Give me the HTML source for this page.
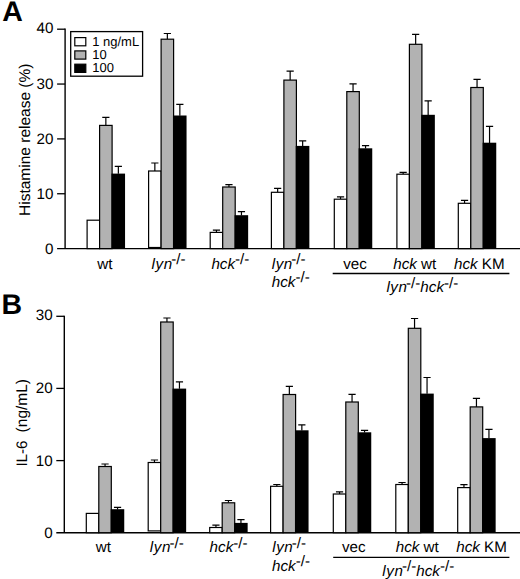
<!DOCTYPE html>
<html><head><meta charset="utf-8"><title>Figure</title>
<style>
html,body{margin:0;padding:0;background:#fff;}
svg{display:block;text-rendering:geometricPrecision}
.t{font-family:"Liberation Sans",Arial,Helvetica,sans-serif;font-size:15.2px;fill:#000}
.y{font-family:"Liberation Sans",Arial,Helvetica,sans-serif;font-size:15.5px;fill:#000}
.l{font-family:"Liberation Sans",Arial,Helvetica,sans-serif;font-size:13px;fill:#000}
.p{font-family:"Liberation Sans",Arial,Helvetica,sans-serif;font-size:28.5px;font-weight:bold;fill:#000}
</style></head>
<body>
<svg width="520" height="579" viewBox="0 0 520 579">
<rect width="520" height="579" fill="#fff"/>
<path d="M65.1 28.55V248.6" stroke="#000" stroke-width="1.4" fill="none"/>
<path d="M57.099999999999994 248.6H520" stroke="#000" stroke-width="1.4" fill="none"/>
<path d="M57.099999999999994 29.2H65.1" stroke="#000" stroke-width="1.3" fill="none"/>
<text x="53.49999999999999" y="32.8" text-anchor="end" class="t">40</text>
<path d="M57.099999999999994 84.05H65.1" stroke="#000" stroke-width="1.3" fill="none"/>
<text x="53.49999999999999" y="89.05" text-anchor="end" class="t">30</text>
<path d="M57.099999999999994 138.9H65.1" stroke="#000" stroke-width="1.3" fill="none"/>
<text x="53.49999999999999" y="143.9" text-anchor="end" class="t">20</text>
<path d="M57.099999999999994 193.75H65.1" stroke="#000" stroke-width="1.3" fill="none"/>
<text x="53.49999999999999" y="198.75" text-anchor="end" class="t">10</text>
<text x="53.49999999999999" y="253.6" text-anchor="end" class="t">0</text>
<rect x="87.10" y="220.20" width="12.5" height="28.40" fill="#fff" stroke="#000" stroke-width="1.2"/>
<path d="M105.85 125.40V117.40M102.25 117.40H109.45" stroke="#000" stroke-width="1.2" fill="none"/>
<rect x="99.60" y="125.40" width="12.5" height="123.20" fill="#b2b2b2" stroke="#000" stroke-width="1.2"/>
<path d="M118.35 173.80V166.30M114.75 166.30H121.95" stroke="#000" stroke-width="1.2" fill="none"/>
<rect x="111.45" y="173.60" width="13.60" height="75.00" fill="#000"/>
<path d="M154.85 171.00V163.00M151.25 163.00H158.45" stroke="#000" stroke-width="1.2" fill="none"/>
<rect x="148.60" y="171.00" width="12.5" height="76.50" fill="#fff" stroke="#000" stroke-width="1.2"/>
<path d="M167.35 39.20V33.50M163.75 33.50H170.95" stroke="#000" stroke-width="1.2" fill="none"/>
<rect x="161.10" y="39.20" width="12.5" height="209.40" fill="#b2b2b2" stroke="#000" stroke-width="1.2"/>
<path d="M179.85 115.70V104.30M176.25 104.30H183.45" stroke="#000" stroke-width="1.2" fill="none"/>
<rect x="172.95" y="115.50" width="13.60" height="133.10" fill="#000"/>
<path d="M216.45 232.40V230.10M212.85 230.10H220.05" stroke="#000" stroke-width="1.2" fill="none"/>
<rect x="210.20" y="232.40" width="12.5" height="16.20" fill="#fff" stroke="#000" stroke-width="1.2"/>
<path d="M228.95 187.00V184.60M225.35 184.60H232.55" stroke="#000" stroke-width="1.2" fill="none"/>
<rect x="222.70" y="187.00" width="12.5" height="61.60" fill="#b2b2b2" stroke="#000" stroke-width="1.2"/>
<path d="M241.45 215.40V211.70M237.85 211.70H245.05" stroke="#000" stroke-width="1.2" fill="none"/>
<rect x="234.55" y="215.20" width="13.60" height="33.40" fill="#000"/>
<path d="M277.65 192.30V188.30M274.05 188.30H281.25" stroke="#000" stroke-width="1.2" fill="none"/>
<rect x="271.40" y="192.30" width="12.5" height="56.30" fill="#fff" stroke="#000" stroke-width="1.2"/>
<path d="M290.15 80.10V71.10M286.55 71.10H293.75" stroke="#000" stroke-width="1.2" fill="none"/>
<rect x="283.90" y="80.10" width="12.5" height="168.50" fill="#b2b2b2" stroke="#000" stroke-width="1.2"/>
<path d="M302.65 146.10V140.80M299.05 140.80H306.25" stroke="#000" stroke-width="1.2" fill="none"/>
<rect x="295.75" y="145.90" width="13.60" height="102.70" fill="#000"/>
<path d="M340.55 199.20V196.90M336.95 196.90H344.15" stroke="#000" stroke-width="1.2" fill="none"/>
<rect x="334.30" y="199.20" width="12.5" height="49.40" fill="#fff" stroke="#000" stroke-width="1.2"/>
<path d="M353.05 91.60V83.80M349.45 83.80H356.65" stroke="#000" stroke-width="1.2" fill="none"/>
<rect x="346.80" y="91.60" width="12.5" height="157.00" fill="#b2b2b2" stroke="#000" stroke-width="1.2"/>
<path d="M365.55 148.50V145.70M361.95 145.70H369.15" stroke="#000" stroke-width="1.2" fill="none"/>
<rect x="358.65" y="148.30" width="13.60" height="100.30" fill="#000"/>
<path d="M403.15 174.20V172.40M399.55 172.40H406.75" stroke="#000" stroke-width="1.2" fill="none"/>
<rect x="396.90" y="174.20" width="12.5" height="74.40" fill="#fff" stroke="#000" stroke-width="1.2"/>
<path d="M415.65 44.30V34.30M412.05 34.30H419.25" stroke="#000" stroke-width="1.2" fill="none"/>
<rect x="409.40" y="44.30" width="12.5" height="204.30" fill="#b2b2b2" stroke="#000" stroke-width="1.2"/>
<path d="M428.15 115.00V100.80M424.55 100.80H431.75" stroke="#000" stroke-width="1.2" fill="none"/>
<rect x="421.25" y="114.80" width="13.60" height="133.80" fill="#000"/>
<path d="M464.55 203.30V200.40M460.95 200.40H468.15" stroke="#000" stroke-width="1.2" fill="none"/>
<rect x="458.30" y="203.30" width="12.5" height="45.30" fill="#fff" stroke="#000" stroke-width="1.2"/>
<path d="M477.05 87.50V79.30M473.45 79.30H480.65" stroke="#000" stroke-width="1.2" fill="none"/>
<rect x="470.80" y="87.50" width="12.5" height="161.10" fill="#b2b2b2" stroke="#000" stroke-width="1.2"/>
<path d="M489.55 142.90V126.30M485.95 126.30H493.15" stroke="#000" stroke-width="1.2" fill="none"/>
<rect x="482.65" y="142.70" width="13.60" height="105.90" fill="#000"/>
<path d="M64.3 315.65000000000003V532.7" stroke="#000" stroke-width="1.4" fill="none"/>
<path d="M56.3 532.7H520" stroke="#000" stroke-width="1.4" fill="none"/>
<path d="M56.3 316.3H64.3" stroke="#000" stroke-width="1.3" fill="none"/>
<text x="52.699999999999996" y="319.90000000000003" text-anchor="end" class="t">30</text>
<path d="M56.3 388.4H64.3" stroke="#000" stroke-width="1.3" fill="none"/>
<text x="52.699999999999996" y="393.4" text-anchor="end" class="t">20</text>
<path d="M56.3 460.6H64.3" stroke="#000" stroke-width="1.3" fill="none"/>
<text x="52.699999999999996" y="465.6" text-anchor="end" class="t">10</text>
<text x="52.699999999999996" y="537.7" text-anchor="end" class="t">0</text>
<rect x="86.30" y="513.40" width="12.5" height="19.30" fill="#fff" stroke="#000" stroke-width="1.2"/>
<path d="M105.05 466.50V464.00M101.45 464.00H108.65" stroke="#000" stroke-width="1.2" fill="none"/>
<rect x="98.80" y="466.50" width="12.5" height="66.20" fill="#b2b2b2" stroke="#000" stroke-width="1.2"/>
<path d="M117.55 509.40V507.40M113.95 507.40H121.15" stroke="#000" stroke-width="1.2" fill="none"/>
<rect x="110.65" y="509.20" width="13.60" height="23.50" fill="#000"/>
<path d="M154.45 462.50V460.00M150.85 460.00H158.05" stroke="#000" stroke-width="1.2" fill="none"/>
<rect x="148.20" y="462.50" width="12.5" height="68.40" fill="#fff" stroke="#000" stroke-width="1.2"/>
<path d="M166.95 322.00V318.00M163.35 318.00H170.55" stroke="#000" stroke-width="1.2" fill="none"/>
<rect x="160.70" y="322.00" width="12.5" height="210.70" fill="#b2b2b2" stroke="#000" stroke-width="1.2"/>
<path d="M179.45 388.80V381.80M175.85 381.80H183.05" stroke="#000" stroke-width="1.2" fill="none"/>
<rect x="172.55" y="388.60" width="13.60" height="144.10" fill="#000"/>
<path d="M215.95 527.50V525.20M212.35 525.20H219.55" stroke="#000" stroke-width="1.2" fill="none"/>
<rect x="209.70" y="527.50" width="12.5" height="5.20" fill="#fff" stroke="#000" stroke-width="1.2"/>
<path d="M228.45 502.80V500.50M224.85 500.50H232.05" stroke="#000" stroke-width="1.2" fill="none"/>
<rect x="222.20" y="502.80" width="12.5" height="29.90" fill="#b2b2b2" stroke="#000" stroke-width="1.2"/>
<path d="M240.95 523.10V519.60M237.35 519.60H244.55" stroke="#000" stroke-width="1.2" fill="none"/>
<rect x="234.05" y="522.90" width="13.60" height="9.80" fill="#000"/>
<path d="M276.85 486.30V484.50M273.25 484.50H280.45" stroke="#000" stroke-width="1.2" fill="none"/>
<rect x="270.60" y="486.30" width="12.5" height="46.40" fill="#fff" stroke="#000" stroke-width="1.2"/>
<path d="M289.35 394.50V386.30M285.75 386.30H292.95" stroke="#000" stroke-width="1.2" fill="none"/>
<rect x="283.10" y="394.50" width="12.5" height="138.20" fill="#b2b2b2" stroke="#000" stroke-width="1.2"/>
<path d="M301.85 430.50V424.80M298.25 424.80H305.45" stroke="#000" stroke-width="1.2" fill="none"/>
<rect x="294.95" y="430.30" width="13.60" height="102.40" fill="#000"/>
<path d="M339.55 494.00V491.80M335.95 491.80H343.15" stroke="#000" stroke-width="1.2" fill="none"/>
<rect x="333.30" y="494.00" width="12.5" height="38.70" fill="#fff" stroke="#000" stroke-width="1.2"/>
<path d="M352.05 402.00V394.30M348.45 394.30H355.65" stroke="#000" stroke-width="1.2" fill="none"/>
<rect x="345.80" y="402.00" width="12.5" height="130.70" fill="#b2b2b2" stroke="#000" stroke-width="1.2"/>
<path d="M364.55 432.50V430.30M360.95 430.30H368.15" stroke="#000" stroke-width="1.2" fill="none"/>
<rect x="357.65" y="432.30" width="13.60" height="100.40" fill="#000"/>
<path d="M402.05 484.50V482.50M398.45 482.50H405.65" stroke="#000" stroke-width="1.2" fill="none"/>
<rect x="395.80" y="484.50" width="12.5" height="48.20" fill="#fff" stroke="#000" stroke-width="1.2"/>
<path d="M414.55 328.30V318.50M410.95 318.50H418.15" stroke="#000" stroke-width="1.2" fill="none"/>
<rect x="408.30" y="328.30" width="12.5" height="204.40" fill="#b2b2b2" stroke="#000" stroke-width="1.2"/>
<path d="M427.05 393.80V377.50M423.45 377.50H430.65" stroke="#000" stroke-width="1.2" fill="none"/>
<rect x="420.15" y="393.60" width="13.60" height="139.10" fill="#000"/>
<path d="M463.95 487.60V484.70M460.35 484.70H467.55" stroke="#000" stroke-width="1.2" fill="none"/>
<rect x="457.70" y="487.60" width="12.5" height="45.10" fill="#fff" stroke="#000" stroke-width="1.2"/>
<path d="M476.45 406.90V398.30M472.85 398.30H480.05" stroke="#000" stroke-width="1.2" fill="none"/>
<rect x="470.20" y="406.90" width="12.5" height="125.80" fill="#b2b2b2" stroke="#000" stroke-width="1.2"/>
<path d="M488.95 438.30V429.30M485.35 429.30H492.55" stroke="#000" stroke-width="1.2" fill="none"/>
<rect x="482.05" y="438.10" width="13.60" height="94.60" fill="#000"/>
<rect x="70.7" y="31.6" width="71.9" height="44.6" fill="#fff" stroke="#000" stroke-width="1.3"/>
<rect x="74.8" y="37.60" width="11" height="8.2" fill="#fff" stroke="#000" stroke-width="1.2"/>
<text x="92.2" y="45.50" class="l">1 ng/mL</text>
<rect x="74.8" y="50.90" width="11" height="8.2" fill="#b2b2b2" stroke="#000" stroke-width="1.2"/>
<text x="92.2" y="58.80" class="l">10</text>
<rect x="74.8" y="64.20" width="11" height="8.2" fill="#000" stroke="#000" stroke-width="1.2"/>
<text x="92.2" y="72.10" class="l">100</text>
<text x="2.2" y="21.2" class="p">A</text>
<text x="1.6" y="313.5" class="p">B</text>
<text transform="translate(29.9 216.0) rotate(-90)" class="y">Histamine release (%)</text>
<text transform="translate(27.1 466.6) rotate(-90)" class="t">IL-6</text>
<text transform="translate(27.2 432.4) rotate(-90)" class="y">(ng/mL)</text>
<text x="97.3" y="268.5" class="t" text-anchor="start"><tspan>wt</tspan></text>
<text x="151.6" y="268.5" class="t" text-anchor="start"><tspan font-style="italic" letter-spacing="0.6">ly</tspan><tspan font-style="italic" letter-spacing="-1.0">n</tspan><tspan dy="-4.5">-/-</tspan></text>
<text x="211.4" y="268.5" class="t" text-anchor="start"><tspan font-style="italic">hck</tspan><tspan dy="-4.5">-/-</tspan></text>
<text x="271.7" y="268.5" class="t" text-anchor="start"><tspan font-style="italic" letter-spacing="0.6">ly</tspan><tspan font-style="italic" letter-spacing="-1.0">n</tspan><tspan dy="-4.5">-/-</tspan></text>
<text x="271.8" y="286.8" class="t" text-anchor="start"><tspan font-style="italic">hck</tspan><tspan dy="-4.5">-/-</tspan></text>
<text x="343.2" y="268.5" class="t" text-anchor="start"><tspan>vec</tspan></text>
<text x="393.2" y="268.5" class="t" text-anchor="start"><tspan font-style="italic">hck</tspan><tspan> wt</tspan></text>
<text x="454.0" y="268.5" class="t" text-anchor="start"><tspan font-style="italic">hck</tspan><tspan> KM</tspan></text>
<path d="M332.7 273.5H509.4" stroke="#000" stroke-width="1.3" fill="none"/>
<text x="386.4" y="292.0" class="t" text-anchor="start"><tspan font-style="italic" letter-spacing="0.6">ly</tspan><tspan font-style="italic" letter-spacing="-1.0">n</tspan><tspan dy="-4.5">-/-</tspan><tspan font-style="italic" dy="4.5">hck</tspan><tspan dy="-4.5">-/-</tspan></text>
<text x="95.7" y="552.3" class="t" text-anchor="start"><tspan>wt</tspan></text>
<text x="149.8" y="552.3" class="t" text-anchor="start"><tspan font-style="italic" letter-spacing="0.6">ly</tspan><tspan font-style="italic" letter-spacing="-1.0">n</tspan><tspan dy="-4.5">-/-</tspan></text>
<text x="209.6" y="552.3" class="t" text-anchor="start"><tspan font-style="italic">hck</tspan><tspan dy="-4.5">-/-</tspan></text>
<text x="272.2" y="552.3" class="t" text-anchor="start"><tspan font-style="italic" letter-spacing="0.6">ly</tspan><tspan font-style="italic" letter-spacing="-1.0">n</tspan><tspan dy="-4.5">-/-</tspan></text>
<text x="272.0" y="570.9" class="t" text-anchor="start"><tspan font-style="italic">hck</tspan><tspan dy="-4.5">-/-</tspan></text>
<text x="341.9" y="552.3" class="t" text-anchor="start"><tspan>vec</tspan></text>
<text x="395.7" y="552.3" class="t" text-anchor="start"><tspan font-style="italic">hck</tspan><tspan> wt</tspan></text>
<text x="456.2" y="552.3" class="t" text-anchor="start"><tspan font-style="italic">hck</tspan><tspan> KM</tspan></text>
<path d="M333.2 557.4H509.4" stroke="#000" stroke-width="1.3" fill="none"/>
<text x="382.3" y="575.8" class="t" text-anchor="start"><tspan font-style="italic" letter-spacing="0.6">ly</tspan><tspan font-style="italic" letter-spacing="-1.0">n</tspan><tspan dy="-4.5">-/-</tspan><tspan font-style="italic" dy="4.5">hck</tspan><tspan dy="-4.5">-/-</tspan></text>
</svg>
</body></html>
